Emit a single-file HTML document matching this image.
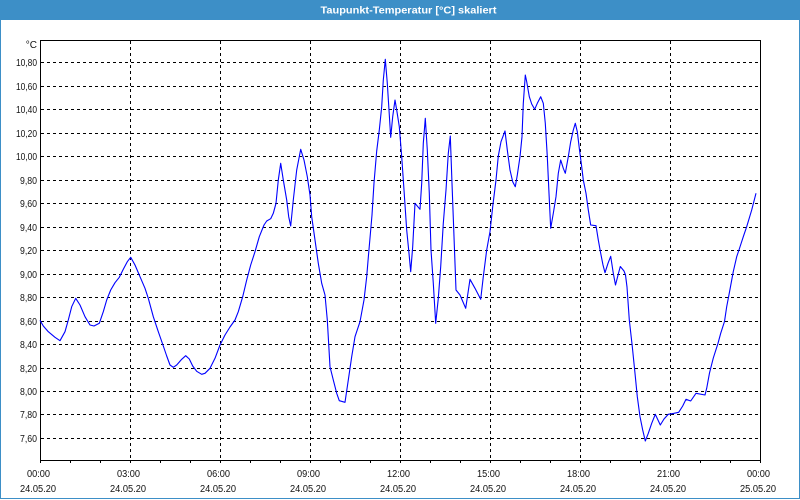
<!DOCTYPE html>
<html>
<head>
<meta charset="utf-8">
<style>
  html, body { margin:0; padding:0; background:#fff; }
  svg { display:block; }
  text { font-family: "Liberation Sans", "DejaVu Sans", sans-serif; }
</style>
</head>
<body>
<svg width="800" height="500" viewBox="0 0 800 500" xmlns="http://www.w3.org/2000/svg">
  <rect x="0" y="0" width="800" height="500" fill="#ffffff"/>
  <!-- title bar -->
  <rect x="0" y="0" width="800" height="20" fill="#3d8fc7"/>
  <text x="408.5" y="13.5" font-size="10.5" font-weight="bold" fill="#ffffff" text-anchor="middle" textLength="176" lengthAdjust="spacingAndGlyphs">Taupunkt-Temperatur [°C] skaliert</text>
  <!-- frame -->
  <line x1="0.5" y1="20" x2="0.5" y2="499" stroke="#3d8fc7" stroke-width="1"/>
  <line x1="799.5" y1="20" x2="799.5" y2="499" stroke="#3d8fc7" stroke-width="1"/>
  <line x1="0" y1="498.5" x2="800" y2="498.5" stroke="#3d8fc7" stroke-width="1"/>

  <!-- horizontal grid -->
  <g stroke="#000" stroke-width="1" stroke-dasharray="3,3" fill="none">
    <line x1="41" y1="62.5" x2="760" y2="62.5"/>
    <line x1="41" y1="86.5" x2="760" y2="86.5"/>
    <line x1="41" y1="109.5" x2="760" y2="109.5"/>
    <line x1="41" y1="133.5" x2="760" y2="133.5"/>
    <line x1="41" y1="156.5" x2="760" y2="156.5"/>
    <line x1="41" y1="180.5" x2="760" y2="180.5"/>
    <line x1="41" y1="203.5" x2="760" y2="203.5"/>
    <line x1="41" y1="227.5" x2="760" y2="227.5"/>
    <line x1="41" y1="250.5" x2="760" y2="250.5"/>
    <line x1="41" y1="274.5" x2="760" y2="274.5"/>
    <line x1="41" y1="297.5" x2="760" y2="297.5"/>
    <line x1="41" y1="321.5" x2="760" y2="321.5"/>
    <line x1="41" y1="344.5" x2="760" y2="344.5"/>
    <line x1="41" y1="368.5" x2="760" y2="368.5"/>
    <line x1="41" y1="391.5" x2="760" y2="391.5"/>
    <line x1="41" y1="414.5" x2="760" y2="414.5"/>
    <line x1="41" y1="438.5" x2="760" y2="438.5"/>
  </g>
  <!-- vertical grid -->
  <g stroke="#000" stroke-width="1" stroke-dasharray="3,3" fill="none">
    <line x1="130.5" y1="41" x2="130.5" y2="460"/>
    <line x1="220.5" y1="41" x2="220.5" y2="460"/>
    <line x1="310.5" y1="41" x2="310.5" y2="460"/>
    <line x1="400.5" y1="41" x2="400.5" y2="460"/>
    <line x1="490.5" y1="41" x2="490.5" y2="460"/>
    <line x1="580.5" y1="41" x2="580.5" y2="460"/>
    <line x1="670.5" y1="41" x2="670.5" y2="460"/>
  </g>

  <!-- axes box -->
  <rect x="40.5" y="40.5" width="720" height="420" fill="none" stroke="#000" stroke-width="1"/>
  <!-- bottom ticks -->
  <g stroke="#000" stroke-width="1">
    <line x1="40.5" y1="460" x2="40.5" y2="463"/>
    <line x1="70.5" y1="460" x2="70.5" y2="463"/>
    <line x1="100.5" y1="460" x2="100.5" y2="463"/>
    <line x1="130.5" y1="460" x2="130.5" y2="463"/>
    <line x1="160.5" y1="460" x2="160.5" y2="463"/>
    <line x1="190.5" y1="460" x2="190.5" y2="463"/>
    <line x1="220.5" y1="460" x2="220.5" y2="463"/>
    <line x1="250.5" y1="460" x2="250.5" y2="463"/>
    <line x1="280.5" y1="460" x2="280.5" y2="463"/>
    <line x1="310.5" y1="460" x2="310.5" y2="463"/>
    <line x1="340.5" y1="460" x2="340.5" y2="463"/>
    <line x1="370.5" y1="460" x2="370.5" y2="463"/>
    <line x1="400.5" y1="460" x2="400.5" y2="463"/>
    <line x1="430.5" y1="460" x2="430.5" y2="463"/>
    <line x1="460.5" y1="460" x2="460.5" y2="463"/>
    <line x1="490.5" y1="460" x2="490.5" y2="463"/>
    <line x1="520.5" y1="460" x2="520.5" y2="463"/>
    <line x1="550.5" y1="460" x2="550.5" y2="463"/>
    <line x1="580.5" y1="460" x2="580.5" y2="463"/>
    <line x1="610.5" y1="460" x2="610.5" y2="463"/>
    <line x1="640.5" y1="460" x2="640.5" y2="463"/>
    <line x1="670.5" y1="460" x2="670.5" y2="463"/>
    <line x1="700.5" y1="460" x2="700.5" y2="463"/>
    <line x1="730.5" y1="460" x2="730.5" y2="463"/>
    <line x1="760.5" y1="460" x2="760.5" y2="463"/>
  </g>

  <!-- y labels -->
  <g font-size="10" fill="#111" text-anchor="end">
    <text x="37" y="48">°C</text>
    <text x="37" y="66" textLength="21" lengthAdjust="spacingAndGlyphs">10,80</text>
    <text x="37" y="90" textLength="21" lengthAdjust="spacingAndGlyphs">10,60</text>
    <text x="37" y="113" textLength="21" lengthAdjust="spacingAndGlyphs">10,40</text>
    <text x="37" y="137" textLength="21" lengthAdjust="spacingAndGlyphs">10,20</text>
    <text x="37" y="160" textLength="21" lengthAdjust="spacingAndGlyphs">10,00</text>
    <text x="37" y="184" textLength="17" lengthAdjust="spacingAndGlyphs">9,80</text>
    <text x="37" y="207" textLength="17" lengthAdjust="spacingAndGlyphs">9,60</text>
    <text x="37" y="231" textLength="17" lengthAdjust="spacingAndGlyphs">9,40</text>
    <text x="37" y="254" textLength="17" lengthAdjust="spacingAndGlyphs">9,20</text>
    <text x="37" y="278" textLength="17" lengthAdjust="spacingAndGlyphs">9,00</text>
    <text x="37" y="301" textLength="17" lengthAdjust="spacingAndGlyphs">8,80</text>
    <text x="37" y="325" textLength="17" lengthAdjust="spacingAndGlyphs">8,60</text>
    <text x="37" y="348" textLength="17" lengthAdjust="spacingAndGlyphs">8,40</text>
    <text x="37" y="372" textLength="17" lengthAdjust="spacingAndGlyphs">8,20</text>
    <text x="37" y="395" textLength="17" lengthAdjust="spacingAndGlyphs">8,00</text>
    <text x="37" y="418" textLength="17" lengthAdjust="spacingAndGlyphs">7,80</text>
    <text x="37" y="442" textLength="17" lengthAdjust="spacingAndGlyphs">7,60</text>
  </g>

  <!-- x labels -->
  <g font-size="10" fill="#111" text-anchor="middle">
    <text x="38.5" y="477" textLength="23" lengthAdjust="spacingAndGlyphs">00:00</text>
    <text x="128.5" y="477" textLength="23" lengthAdjust="spacingAndGlyphs">03:00</text>
    <text x="218.5" y="477" textLength="23" lengthAdjust="spacingAndGlyphs">06:00</text>
    <text x="308.5" y="477" textLength="23" lengthAdjust="spacingAndGlyphs">09:00</text>
    <text x="398.5" y="477" textLength="23" lengthAdjust="spacingAndGlyphs">12:00</text>
    <text x="488.5" y="477" textLength="23" lengthAdjust="spacingAndGlyphs">15:00</text>
    <text x="578.5" y="477" textLength="23" lengthAdjust="spacingAndGlyphs">18:00</text>
    <text x="668.5" y="477" textLength="23" lengthAdjust="spacingAndGlyphs">21:00</text>
    <text x="758.5" y="477" textLength="23" lengthAdjust="spacingAndGlyphs">00:00</text>

    <text x="38" y="492" textLength="36" lengthAdjust="spacingAndGlyphs">24.05.20</text>
    <text x="128" y="492" textLength="36" lengthAdjust="spacingAndGlyphs">24.05.20</text>
    <text x="218" y="492" textLength="36" lengthAdjust="spacingAndGlyphs">24.05.20</text>
    <text x="308" y="492" textLength="36" lengthAdjust="spacingAndGlyphs">24.05.20</text>
    <text x="398" y="492" textLength="36" lengthAdjust="spacingAndGlyphs">24.05.20</text>
    <text x="488" y="492" textLength="36" lengthAdjust="spacingAndGlyphs">24.05.20</text>
    <text x="578" y="492" textLength="36" lengthAdjust="spacingAndGlyphs">24.05.20</text>
    <text x="668" y="492" textLength="36" lengthAdjust="spacingAndGlyphs">24.05.20</text>
    <text x="758" y="492" textLength="36" lengthAdjust="spacingAndGlyphs">25.05.20</text>
  </g>

  <!-- data series -->
  <polyline fill="none" stroke="#0000ff" stroke-width="1.1" stroke-linejoin="round" points="
40,320.3 43.3,326 48.3,331.7 55,337.3 60,340.7 65,331.7 68.3,320 71.7,306.7 75.7,298.3 80,305 85,316.7 90,325 94,326 99.3,323.3 103.3,311.7 106.7,300 110.7,290 115,282.7 119.3,277.3 123.3,269.3 127.3,261.7 130.7,257.3 135,265 140,276.7 145,288.3 148.3,298.3 153.3,316.7 158.3,331.7 163.3,346 166.7,356 170,365 173.3,367.3 176.7,365 181.7,359.3 185.7,355.7 189.3,359 192.7,366 196.7,371.3 201.7,374.3 205,373.3 210,368.3 215,358.3 220,345 225,335 230,327 235,320 238.3,311.7 242.7,296.7 246.7,280 250.7,265 255,251.7 259.3,236.7 264,225 266.7,221 270.7,218.7 273.3,213.3 276,203.3 278.3,180 280.7,163.3 283.3,180 286.7,200 288.7,216.7 290.7,226 293.3,200 296.7,170 300.7,149.3 304,160 307.3,176.7 310,195 311.7,216.7 315,240 318.3,263.3 321.7,283.3 325,295 327.3,320 330,366.7 333.3,380 336.7,393.3 339.3,400.7 345,402.3 348.3,380 351.7,356.7 355,336.7 360,321.7 364,300 366.7,276.7 368.5,255 370,238 372,215 374,183 376.7,151 379.3,130 381.7,106.7 383.3,80 385.3,59.3 387.3,83.3 389,110 390.7,137.3 392.7,116.7 395,100 396.7,110 399.3,126.7 401.7,156.7 404,190 406.7,230 409,253.3 410.7,271.7 412.7,246.7 415,203.3 420,209.3 421.7,183.3 423.3,143.3 425.3,118.3 427.3,150 429.3,193.3 431,250 433.3,283.3 435.7,323.3 438.3,298.3 440.7,266.7 443.3,223.3 446,190 448.3,153.3 450.3,136 452,183.3 454,236.7 456,290 460,295 465.7,308.3 470,279.3 475,288.3 480.7,299.3 483.3,276.7 486.7,250 490,231.7 492.7,206.7 496,180 498.3,156 501,141.7 505,131 507.3,150 510,170 512.7,181.7 515.3,186.7 517.3,175 520,156.7 522,136.7 523.3,103.3 525.3,75 526.7,81.7 529.3,96.7 531.7,104 534.7,109.3 537.3,103.3 540.7,96.7 543.3,103.3 545.3,123.3 547.3,156.7 549,193.3 550.7,228.3 553.3,213.3 556,196.7 558.3,173.3 560.7,160 563.3,168.3 565.3,173.3 568.3,156.7 570.7,141.7 573.3,130 575.3,123.3 577.3,131.7 579.3,148.3 581.7,166.7 583.3,180 586,193.3 588.3,210 590.7,225 596,225.7 598.3,240 600.7,253.3 603,265 605,272.7 608,263.3 610.7,256.3 613.3,273.3 615.5,285 618.5,273.3 620.3,266.5 624,271 625.5,275 627,287 629.3,320 632.3,346.7 635,373.3 637.3,396.7 640,416.7 642.7,430 645.3,441 648.3,433.3 651.7,423.3 655.3,414.3 660.3,425 664,419 668.3,414.3 674,413.3 678.7,412.3 682.7,406 686,399.3 690.7,401 696,393.3 705,395 706.7,388.3 709.5,373 713.3,358 718,343.3 720.7,333.3 724.5,321.5 726.7,306.7 729.5,292 733.3,271.5 736.7,256.7 739.3,249 743.3,236.7 746.7,226.7 751.7,210 756,193.3"/>
</svg>
</body>
</html>
